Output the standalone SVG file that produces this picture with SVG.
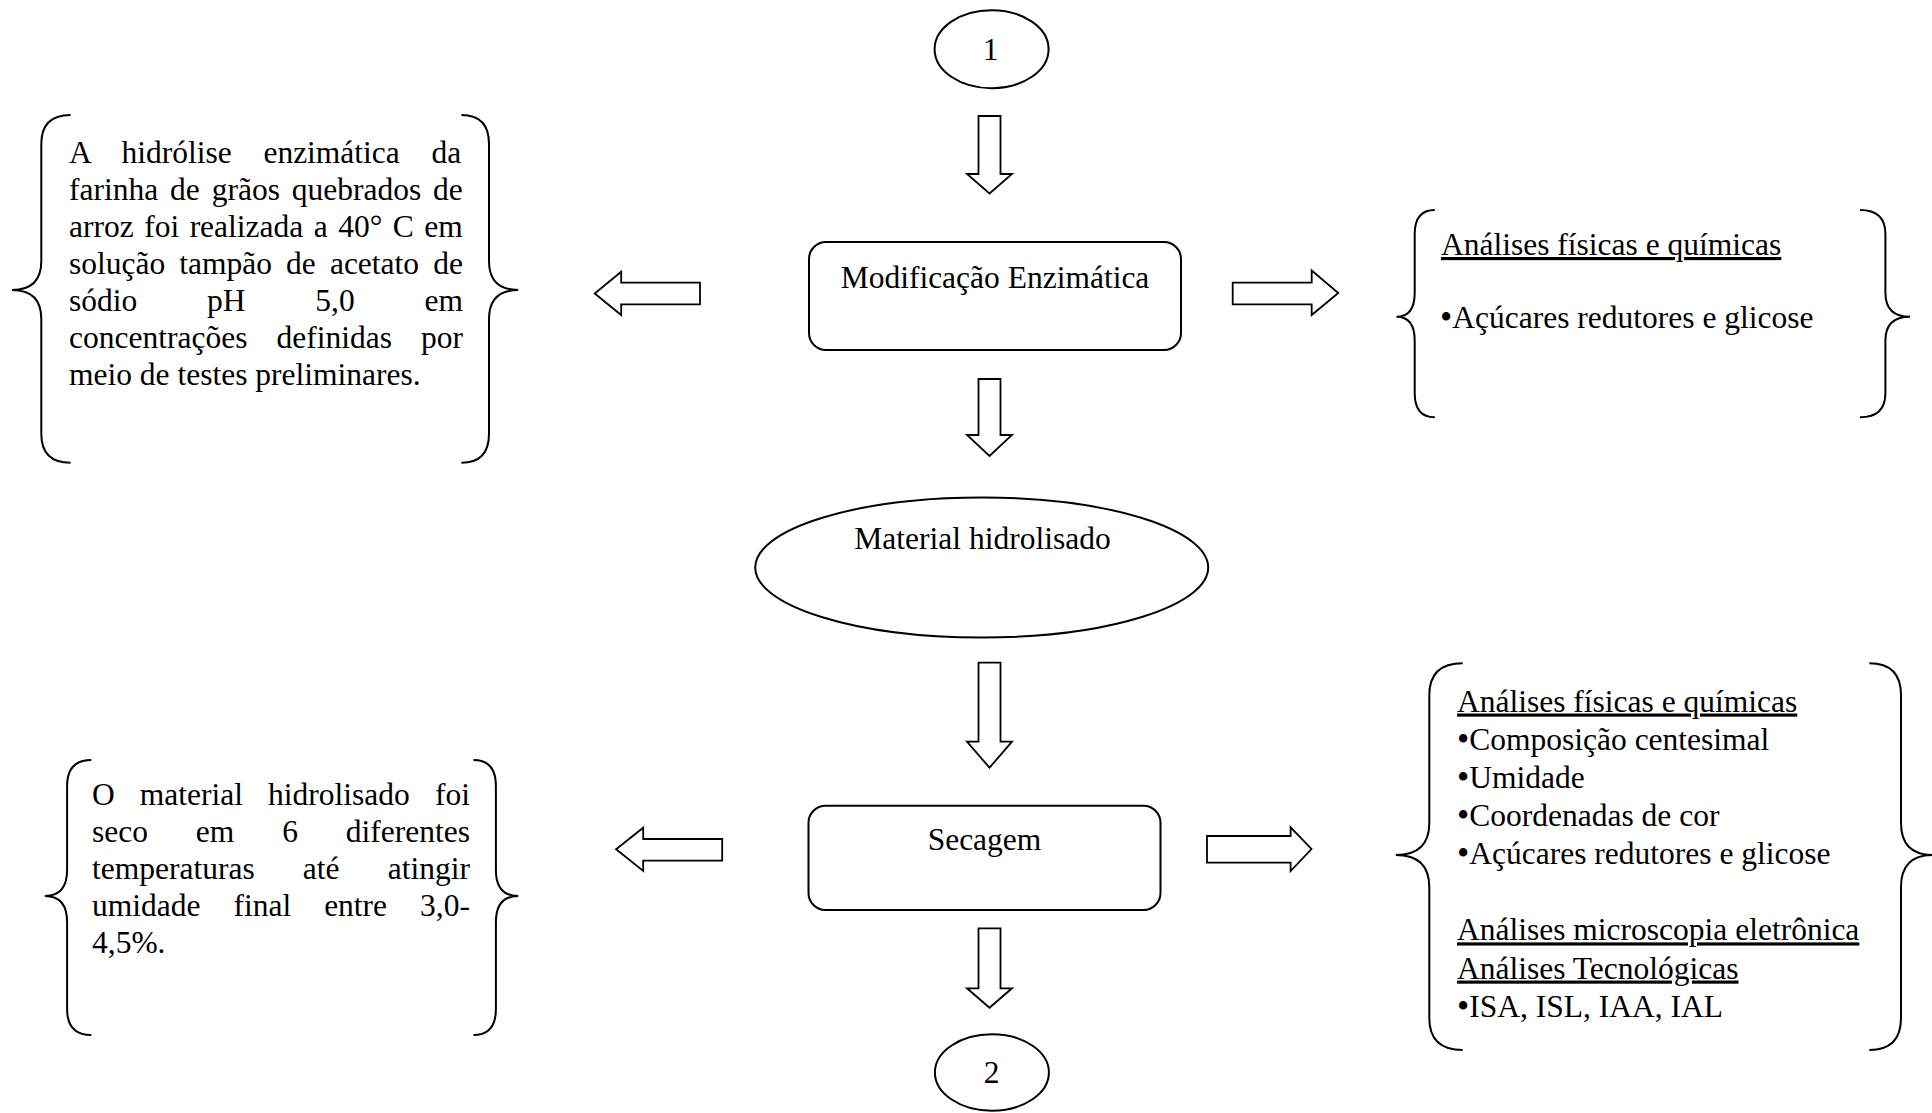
<svg xmlns="http://www.w3.org/2000/svg" width="1932" height="1113" viewBox="0 0 1932 1113">
<style>
.t { font-family: "Liberation Serif", "Times New Roman", serif; font-size: 31.5px; fill: #000; }
.m { text-anchor: middle; }
.u { text-decoration: underline; }
.bl { font-size: 35px; }
.s { fill: #fff; stroke: #000; stroke-width: 2; }
.b { fill: none; stroke: #000; stroke-width: 2; }
.ar { fill: #fff; stroke: #000; stroke-width: 1.8; stroke-linejoin: miter; }
</style>
<rect width="1932" height="1113" fill="#fff"/>

<g id="connectors">
  <polygon class="ar" points="978.5,116 1000.5,116 1000.5,174 1012,174 989.5,193.5 967,174 978.5,174"/>
  <polygon class="ar" points="978.5,379 1000.5,379 1000.5,435 1012,435 989.5,456 967,435 978.5,435"/>
  <polygon class="ar" points="978.5,662.7 1000.5,662.7 1000.5,741.7 1012,741.7 989.5,767.7 967,741.7 978.5,741.7"/>
  <polygon class="ar" points="978.5,928.3 1000.5,928.3 1000.5,988.3 1012,988.3 989.5,1007.7 967,988.3 978.5,988.3"/>
  <polygon class="ar" points="700,282.7 700,304.3 621.2,304.3 621.2,315 594.7,293.5 621.2,271.7 621.2,282.7"/>
  <polygon class="ar" points="1232.7,282.7 1232.7,304.3 1311.7,304.3 1311.7,315 1338.3,293 1311.7,270.5 1311.7,282.7"/>
  <polygon class="ar" points="722.2,839 722.2,860.7 643.2,860.7 643.2,871 616.1,849.3 643.2,827.7 643.2,839"/>
  <polygon class="ar" points="1207,836 1207,862.7 1290.6,862.7 1290.6,871 1311.5,849 1290.6,827.3 1290.6,836"/>
</g>

<g id="start1">
  <ellipse class="s" cx="991.6" cy="49.2" rx="57" ry="39"/>
  <text class="t m" x="990.6" y="59.5">1</text>
</g>

<g id="modificacao">
  <rect class="s" x="809" y="242" width="372" height="108" rx="17" ry="17"/>
  <text class="t m" x="995" y="287.5">Modificação Enzimática</text>
</g>

<g id="material">
  <ellipse class="s" cx="981.7" cy="567.5" rx="226.5" ry="70"/>
  <text class="t m" x="982.5" y="549">Material hidrolisado</text>
</g>

<g id="secagem">
  <rect class="s" x="808.5" y="805.7" width="352" height="104.3" rx="17" ry="17"/>
  <text class="t m" x="984.5" y="850">Secagem</text>
</g>

<g id="end2">
  <ellipse class="s" cx="991.9" cy="1072.5" rx="57" ry="38.2"/>
  <text class="t m" x="991.6" y="1083.3">2</text>
</g>

<g id="note-hidrolise">
  <path class="b" d="M70.6,115 Q41.3,115 41.3,144 L41.3,261 Q41.3,290 12,290 Q41.3,290 41.3,319 L41.3,433.7 Q41.3,462.7 70.6,462.7"/>
  <path class="b" d="M461.4,115 Q489,115 489,144 L489,261 Q489,290 518.2,290 Q489,290 489,319 L489,433.7 Q489,462.7 461.4,462.7"/>
  <text class="t" x="69" y="162.7" word-spacing="23.7">A hidrólise enzimática da</text>
  <text class="t" x="69" y="199.75" word-spacing="4.0">farinha de grãos quebrados de</text>
  <text class="t" x="69" y="236.8" word-spacing="2.6">arroz foi realizada a 40° C em</text>
  <text class="t" x="69" y="273.85" word-spacing="6.2">solução tampão de acetato de</text>
  <text class="t" x="69" y="310.9" word-spacing="61.9">sódio pH 5,0 em</text>
  <text class="t" x="69" y="347.95" word-spacing="21.2">concentrações definidas por</text>
  <text class="t" x="69" y="385">meio de testes preliminares.</text>
</g>

<g id="analises-1">
  <path class="b" d="M1434.8,210 Q1414.7,210 1414.7,234 L1414.7,292.7 Q1414.7,316.7 1396.5,316.7 Q1414.7,316.7 1414.7,340.7 L1414.7,393.3 Q1414.7,417.3 1434.8,417.3"/>
  <path class="b" d="M1860,210 Q1885.4,210 1885.4,234 L1885.4,292.7 Q1885.4,316.7 1910,316.7 Q1885.4,316.7 1885.4,340.7 L1885.4,393.3 Q1885.4,417.3 1860,417.3"/>
  <text class="t u" x="1441" y="255">Análises físicas e químicas</text>
  <text class="t" x="1440" y="328.3"><tspan class="bl" dy="1">•</tspan><tspan dy="-1">Açúcares redutores e glicose</tspan></text>
</g>

<g id="note-secagem">
  <path class="b" d="M91.3,760 Q67.1,760 67.1,786 L67.1,870 Q67.1,896 44.8,896 Q67.1,896 67.1,922 L67.1,1009 Q67.1,1035 91.3,1035"/>
  <path class="b" d="M473.5,760 Q495.9,760 495.9,786 L495.9,870 Q495.9,896 518.2,896 Q495.9,896 495.9,922 L495.9,1009 Q495.9,1035 473.5,1035"/>
  <text class="t" x="92" y="805" word-spacing="17.2">O material hidrolisado foi</text>
  <text class="t" x="92" y="842.1" word-spacing="40.0">seco em 6 diferentes</text>
  <text class="t" x="92" y="879.2" word-spacing="40.3">temperaturas até atingir</text>
  <text class="t" x="92" y="916.3" word-spacing="25.1">umidade final entre 3,0-</text>
  <text class="t" x="92" y="953.4">4,5%.</text>
</g>

<g id="analises-2">
  <path class="b" d="M1462.7,663.3 Q1429.3,663.3 1429.3,695.3 L1429.3,823 Q1429.3,855 1395.8,855 Q1429.3,855 1429.3,887 L1429.3,1018 Q1429.3,1050 1462.7,1050"/>
  <path class="b" d="M1869.3,663.3 Q1901,663.3 1901,695.3 L1901,823 Q1901,855 1933,855 Q1901,855 1901,887 L1901,1018 Q1901,1050 1869.3,1050"/>
  <text class="t u" x="1457" y="711.5">Análises físicas e químicas</text>
  <text class="t" x="1457" y="749.65"><tspan class="bl" dy="1">•</tspan><tspan dy="-1">Composição centesimal</tspan></text>
  <text class="t" x="1457" y="787.8"><tspan class="bl" dy="1">•</tspan><tspan dy="-1">Umidade</tspan></text>
  <text class="t" x="1457" y="825.95"><tspan class="bl" dy="1">•</tspan><tspan dy="-1">Coordenadas de cor</tspan></text>
  <text class="t" x="1457" y="864.1"><tspan class="bl" dy="1">•</tspan><tspan dy="-1">Açúcares redutores e glicose</tspan></text>
  <text class="t u" x="1457" y="940.4">Análises microscopia eletrônica</text>
  <text class="t u" x="1457" y="978.55">Análises Tecnológicas</text>
  <text class="t" x="1457" y="1016.7"><tspan class="bl" dy="1">•</tspan><tspan dy="-1">ISA, ISL, IAA, IAL</tspan></text>
</g>
</svg>
